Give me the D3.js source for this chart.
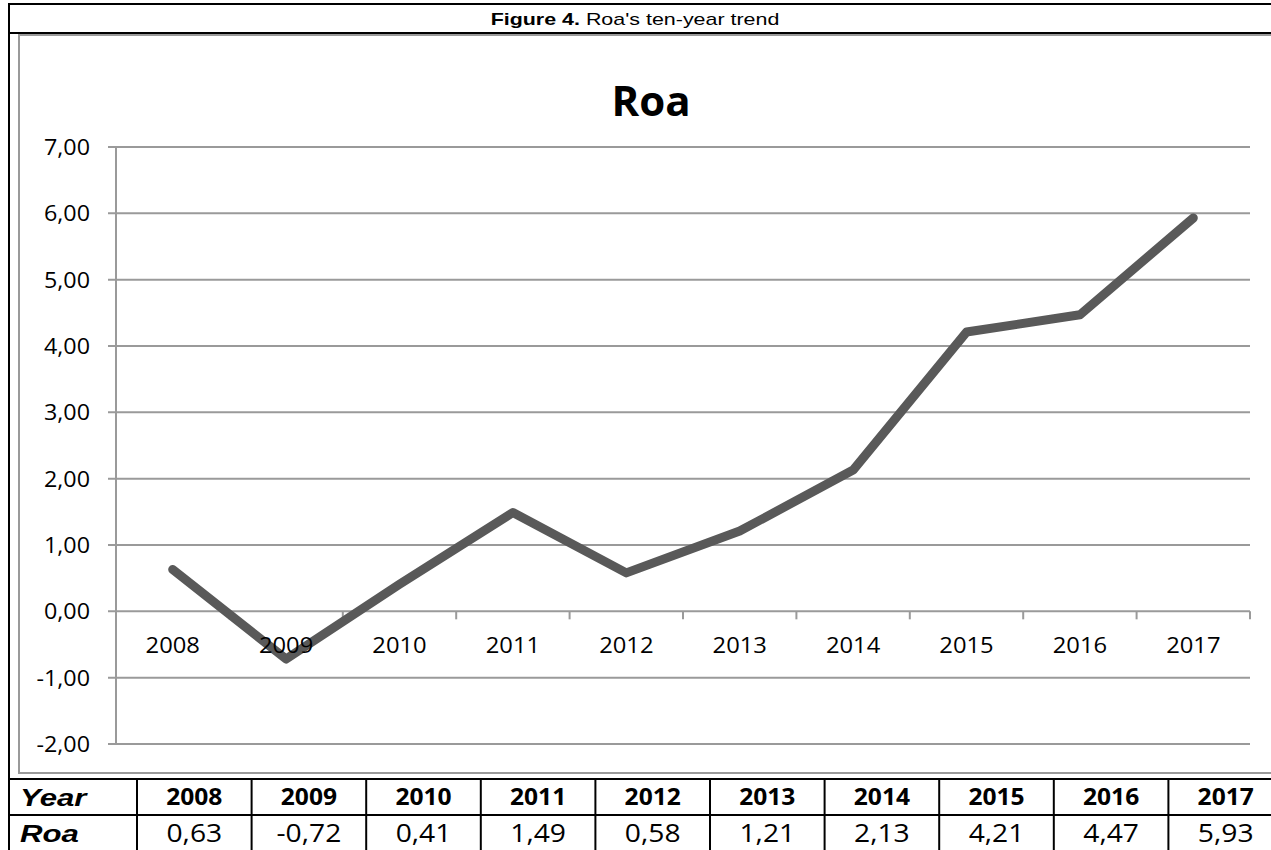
<!DOCTYPE html>
<html>
<head>
<meta charset="utf-8">
<script src="https://cdn.jsdelivr.net/npm/d3@7"></script>
<style>
  html, body { margin: 0; padding: 0; background: #fff; }
  svg { display: block; }
</style>
</head>
<body>
<div id="chart"></div>
<script>
const years = ["2008","2009","2010","2011","2012","2013","2014","2015","2016","2017"];
const roa = [0.63, -0.72, 0.41, 1.49, 0.58, 1.21, 2.13, 4.21, 4.47, 5.93];
const yTicks = [-2, -1, 0, 1, 2, 3, 4, 5, 6, 7];
const captionBold = "Figure 4.";
const captionText = " Roa's ten-year trend";
const chartTitle = "Roa";
const rowLabels = ["Year", "Roa"];

const W = 1271, H = 850;
const svg = d3.select("#chart").append("svg").attr("width", W).attr("height", H);

const fmt = v => d3.format(".2f")(v).replace(".", ",").replace("−", "-");
const place = (cx, cy, sx) => `translate(${cx},${cy}) scale(${sx},1)`;

// Caption box
svg.append("line").attr("x1", 9).attr("x2", W + 10).attr("y1", 4).attr("y2", 4).attr("stroke", "#000").attr("stroke-width", 2);
svg.append("line").attr("x1", 9).attr("x2", W + 10).attr("y1", 33).attr("y2", 33).attr("stroke", "#000").attr("stroke-width", 2);
svg.append("line").attr("x1", 9).attr("x2", 9).attr("y1", 3).attr("y2", H + 10).attr("stroke", "#000").attr("stroke-width", 2);
const cap = svg.append("text").attr("transform", place(635, 25, 1.34)).attr("text-anchor", "middle")
  .attr("font-family", "Liberation Sans, Arial, sans-serif").attr("font-size", 16).attr("fill", "#000");
cap.append("tspan").attr("font-weight", "bold").text(captionBold);
cap.append("tspan").text(captionText);

// Chart area border (grey)
svg.append("rect").attr("x", 19).attr("y", 35).attr("width", W + 20).attr("height", 738)
  .attr("fill", "none").attr("stroke", "#9a9a9a").attr("stroke-width", 2);

// Title
svg.append("text").attr("x", 651).attr("y", 116).attr("text-anchor", "middle")
  .attr("font-family", "Open Sans, sans-serif").attr("font-weight", "bold").attr("font-size", 42)
  .attr("fill", "#000").text(chartTitle);

// Scales
const x = d3.scaleBand().domain(years).range([116, 1250]);
const y = d3.scaleLinear().domain([-2, 7]).range([744, 147]);

// Gridlines
svg.append("g").selectAll("line").data(yTicks).join("line")
  .attr("x1", 108).attr("x2", 1250)
  .attr("y1", d => y(d)).attr("y2", d => y(d))
  .attr("stroke", "#9a9a9a").attr("stroke-width", 2);

// Y axis line
svg.append("line").attr("x1", 116).attr("x2", 116).attr("y1", y(7)).attr("y2", y(-2))
  .attr("stroke", "#9a9a9a").attr("stroke-width", 2);

// Y labels
svg.append("g").selectAll("text").data(yTicks).join("text")
  .attr("transform", d => place(90, y(d), 1.06)).attr("dy", "0.36em").attr("text-anchor", "end")
  .attr("font-family", "Open Sans, sans-serif").attr("font-size", 22).attr("fill", "#000")
  .text(d => fmt(d));

// X category tick marks at boundaries along y=0
const bounds = years.map(d => x(d)).concat([x.range()[1]]);
svg.append("g").selectAll("line").data(bounds).join("line")
  .attr("x1", d => d).attr("x2", d => d)
  .attr("y1", y(0)).attr("y2", y(0) + 8)
  .attr("stroke", "#9a9a9a").attr("stroke-width", 2);

// Line
const line = d3.line().x((d, i) => x(years[i]) + x.bandwidth() / 2).y(d => y(d));
svg.append("path").datum(roa).attr("d", line).attr("fill", "none")
  .attr("stroke", "#595959").attr("stroke-width", 9)
  .attr("stroke-linecap", "round").attr("stroke-linejoin", "round");

// X labels
svg.append("g").selectAll("text").data(years).join("text")
  .attr("transform", d => place(x(d) + x.bandwidth() / 2, 645, 1.08)).attr("dy", "0.36em")
  .attr("text-anchor", "middle")
  .attr("font-family", "Open Sans, sans-serif").attr("font-size", 22).attr("fill", "#000")
  .text(d => d);

// Data table
const tx = d3.scaleBand().domain(years).range([137, 137 + 114.6 * 10]);
const rowY = [779, 815, 851];
svg.append("g").selectAll("line").data(rowY).join("line")
  .attr("x1", 9).attr("x2", W + 10).attr("y1", d => d).attr("y2", d => d)
  .attr("stroke", "#000").attr("stroke-width", 2);
svg.append("g").selectAll("line").data(years.map(d => tx(d))).join("line")
  .attr("x1", d => d).attr("x2", d => d).attr("y1", 779).attr("y2", H + 10)
  .attr("stroke", "#000").attr("stroke-width", 2);

svg.append("g").selectAll("text").data(rowLabels).join("text")
  .attr("transform", (d, i) => place(20, (rowY[i] + rowY[i + 1]) / 2, 1.3)).attr("dy", "0.36em")
  .attr("font-family", "Liberation Sans, Arial, sans-serif").attr("font-weight", "bold")
  .attr("font-style", "italic").attr("font-size", 24).attr("fill", "#000").text(d => d);

svg.append("g").selectAll("text").data(years).join("text")
  .attr("transform", d => place(tx(d) + tx.bandwidth() / 2, (rowY[0] + rowY[1]) / 2, 1.07)).attr("dy", "0.36em")
  .attr("text-anchor", "middle").attr("font-family", "Open Sans, sans-serif").attr("font-weight", "bold")
  .attr("font-size", 23).attr("fill", "#000").text(d => d);

svg.append("g").selectAll("text").data(roa).join("text")
  .attr("transform", (d, i) => place(tx(years[i]) + tx.bandwidth() / 2, (rowY[1] + rowY[2]) / 2, 1.13)).attr("dy", "0.36em")
  .attr("text-anchor", "middle").attr("font-family", "Open Sans, sans-serif")
  .attr("font-size", 25).attr("fill", "#000").text(d => fmt(d));
</script>
</body>
</html>
